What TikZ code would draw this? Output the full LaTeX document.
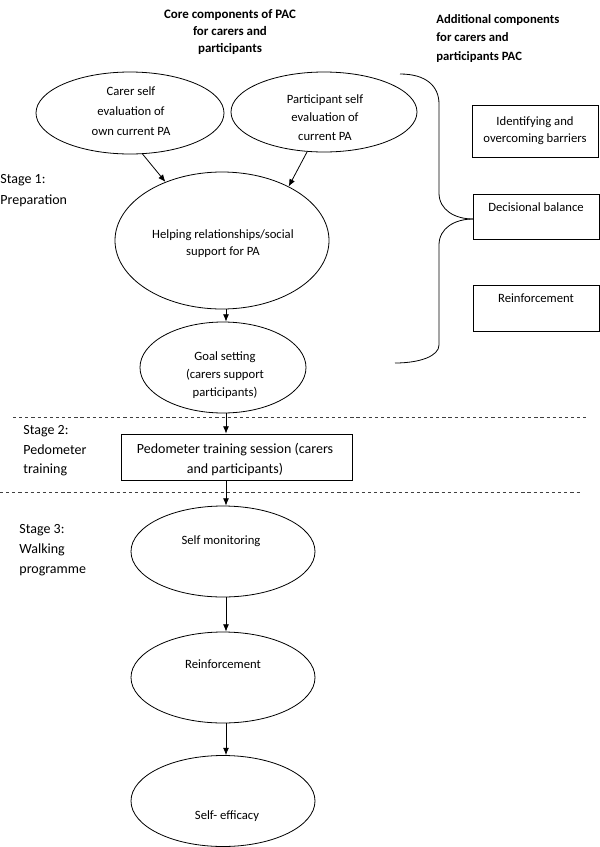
\documentclass[tikz,border=0pt]{standalone}
\usepackage{fontspec}
\setmainfont{Carlito}
\usetikzlibrary{shapes.geometric,arrows.meta}
\begin{document}
\begin{tikzpicture}[x=0.75pt,y=-0.75pt,
  line width=0.6pt,
  ell/.style={draw,ellipse,inner sep=0pt},
  box/.style={draw,rectangle,inner sep=0pt},
  txt/.style={inner sep=0pt,align=center,font=\fontsize{9.5}{13.5}\selectfont},
  ltxt/.style={inner sep=0pt,align=left,anchor=west,font=\fontsize{10.5}{14.6}\selectfont},
  arr/.style={-{Latex[length=5.5pt,width=4.5pt]}},
  sep/.style={dashed,dash pattern=on 2.4pt off 2.2pt,draw=black!75,line width=0.5pt},
  brace/.style={line width=0.6pt}]
\useasboundingbox (0,0) rectangle (600,847);

% headings
\node[txt,font=\bfseries\fontsize{9.7}{13.1}\selectfont] (core) at (230,32) {Core components of PAC\\for carers and\\participants};
\node[ltxt,font=\bfseries\fontsize{9.5}{13.9}\selectfont] (addl) at (436,38.5) {Additional components\\for carers and\\participants PAC};

% stage labels
\node[ltxt,font=\fontsize{10.5}{15.75}\selectfont] (st1) at (0,190.5) {Stage 1:\\Preparation};
\node[ltxt,font=\fontsize{10.5}{14.6}\selectfont] (st2) at (23,451) {Stage 2:\\Pedometer\\training};
\node[ltxt,font=\fontsize{10.5}{15}\selectfont] (st3) at (19,550) {Stage 3:\\Walking\\programme};

% ellipses
\node[ell,minimum width=188*0.75pt,minimum height=82*0.75pt] (carer) at (130,113) {};
\node[txt,font=\fontsize{9.5}{15}\selectfont] (carert) at (131,111.5) {Carer self\\evaluation of\\own current PA};
\node[ell,minimum width=186*0.75pt,minimum height=80*0.75pt] (part) at (324,112) {};
\node[txt,font=\fontsize{9.5}{14}\selectfont] (partt) at (325,117.5) {Participant self\\evaluation of\\current PA};
\node[ell,minimum width=214*0.75pt,minimum height=137*0.75pt] (help) at (222,240.5) {};
\node[txt,font=\fontsize{9.5}{12.75}\selectfont] (helpt) at (223,243.5) {Helping relationships/social\\support for PA};
\node[ell,minimum width=166*0.75pt,minimum height=91*0.75pt] (goal) at (223,367.5) {};
\node[txt] (goalt) at (225,375) {Goal setting\\(carers support\\participants)};

\node[box,minimum width=231*0.75pt,minimum height=46*0.75pt] (pedo) at (236.5,457) {};
\node[txt,font=\fontsize{10.5}{15.5}\selectfont] (pedot) at (235,459.5) {Pedometer training session (carers\\and participants)};

\node[ell,minimum width=184*0.75pt,minimum height=91*0.75pt] (selfm) at (223,551.5) {};
\node[txt] (selfmt) at (221,541) {Self monitoring};
\node[ell,minimum width=184*0.75pt,minimum height=91*0.75pt] (reinf) at (223,677.5) {};
\node[txt] (reinft) at (223,664) {Reinforcement};
\node[ell,minimum width=184*0.75pt,minimum height=91*0.75pt] (selfe) at (223,801) {};
\node[txt] (selfet) at (227,816) {Self- efficacy};

% right boxes
\node[box,minimum width=126*0.75pt,minimum height=52*0.75pt] (ident) at (535,131) {};
\node[txt,font=\fontsize{9.5}{13.1}\selectfont] (identt) at (535,130.5) {Identifying and\\overcoming barriers};
\node[box,minimum width=126*0.75pt,minimum height=45*0.75pt] (dec) at (536,216.5) {};
\node[txt] (dect) at (536,207) {Decisional balance};
\node[box,minimum width=126*0.75pt,minimum height=46*0.75pt] (rbox) at (536,308) {};
\node[txt] (rboxt) at (536,298) {Reinforcement};

% brace
\coordinate (bt) at (400,74);
\coordinate (btip) at (473,219);
\coordinate (bb) at (395,363);
\draw[brace] (bt) .. controls (426,74) and (439,86) .. (439,104)
  -- (439,193) .. controls (439,210) and (455,219) .. (btip);
\draw[brace] (btip) .. controls (455,219) and (439,228) .. (439,245)
  -- (439,345) .. controls (439,356) and (420,363) .. (bb);

% arrows
\coordinate (ax) at (226,0);
\draw[arr] (carer.-73) -- (help.134);
\draw[arr] (part.-113) -- (help.39);
\draw[arr] (help.south -| ax) -- (goal.north -| ax);
\draw[arr] (goal.south -| ax) -- (pedo.north -| ax);
\draw[arr] (pedo.south -| ax) -- (selfm.north -| ax);
\draw[arr] (selfm.south -| ax) -- (reinf.north -| ax);
\draw[arr] (reinf.south -| ax) -- (selfe.north -| ax);

% stage separators
\coordinate (d1a) at (13,417);
\coordinate (d1b) at (586,417);
\coordinate (d2a) at (0,492);
\coordinate (d2b) at (580,492);
\draw[sep] (d1a) -- (d1b);
\draw[sep] (d2a) -- (d2b);
\end{tikzpicture}
\end{document}
